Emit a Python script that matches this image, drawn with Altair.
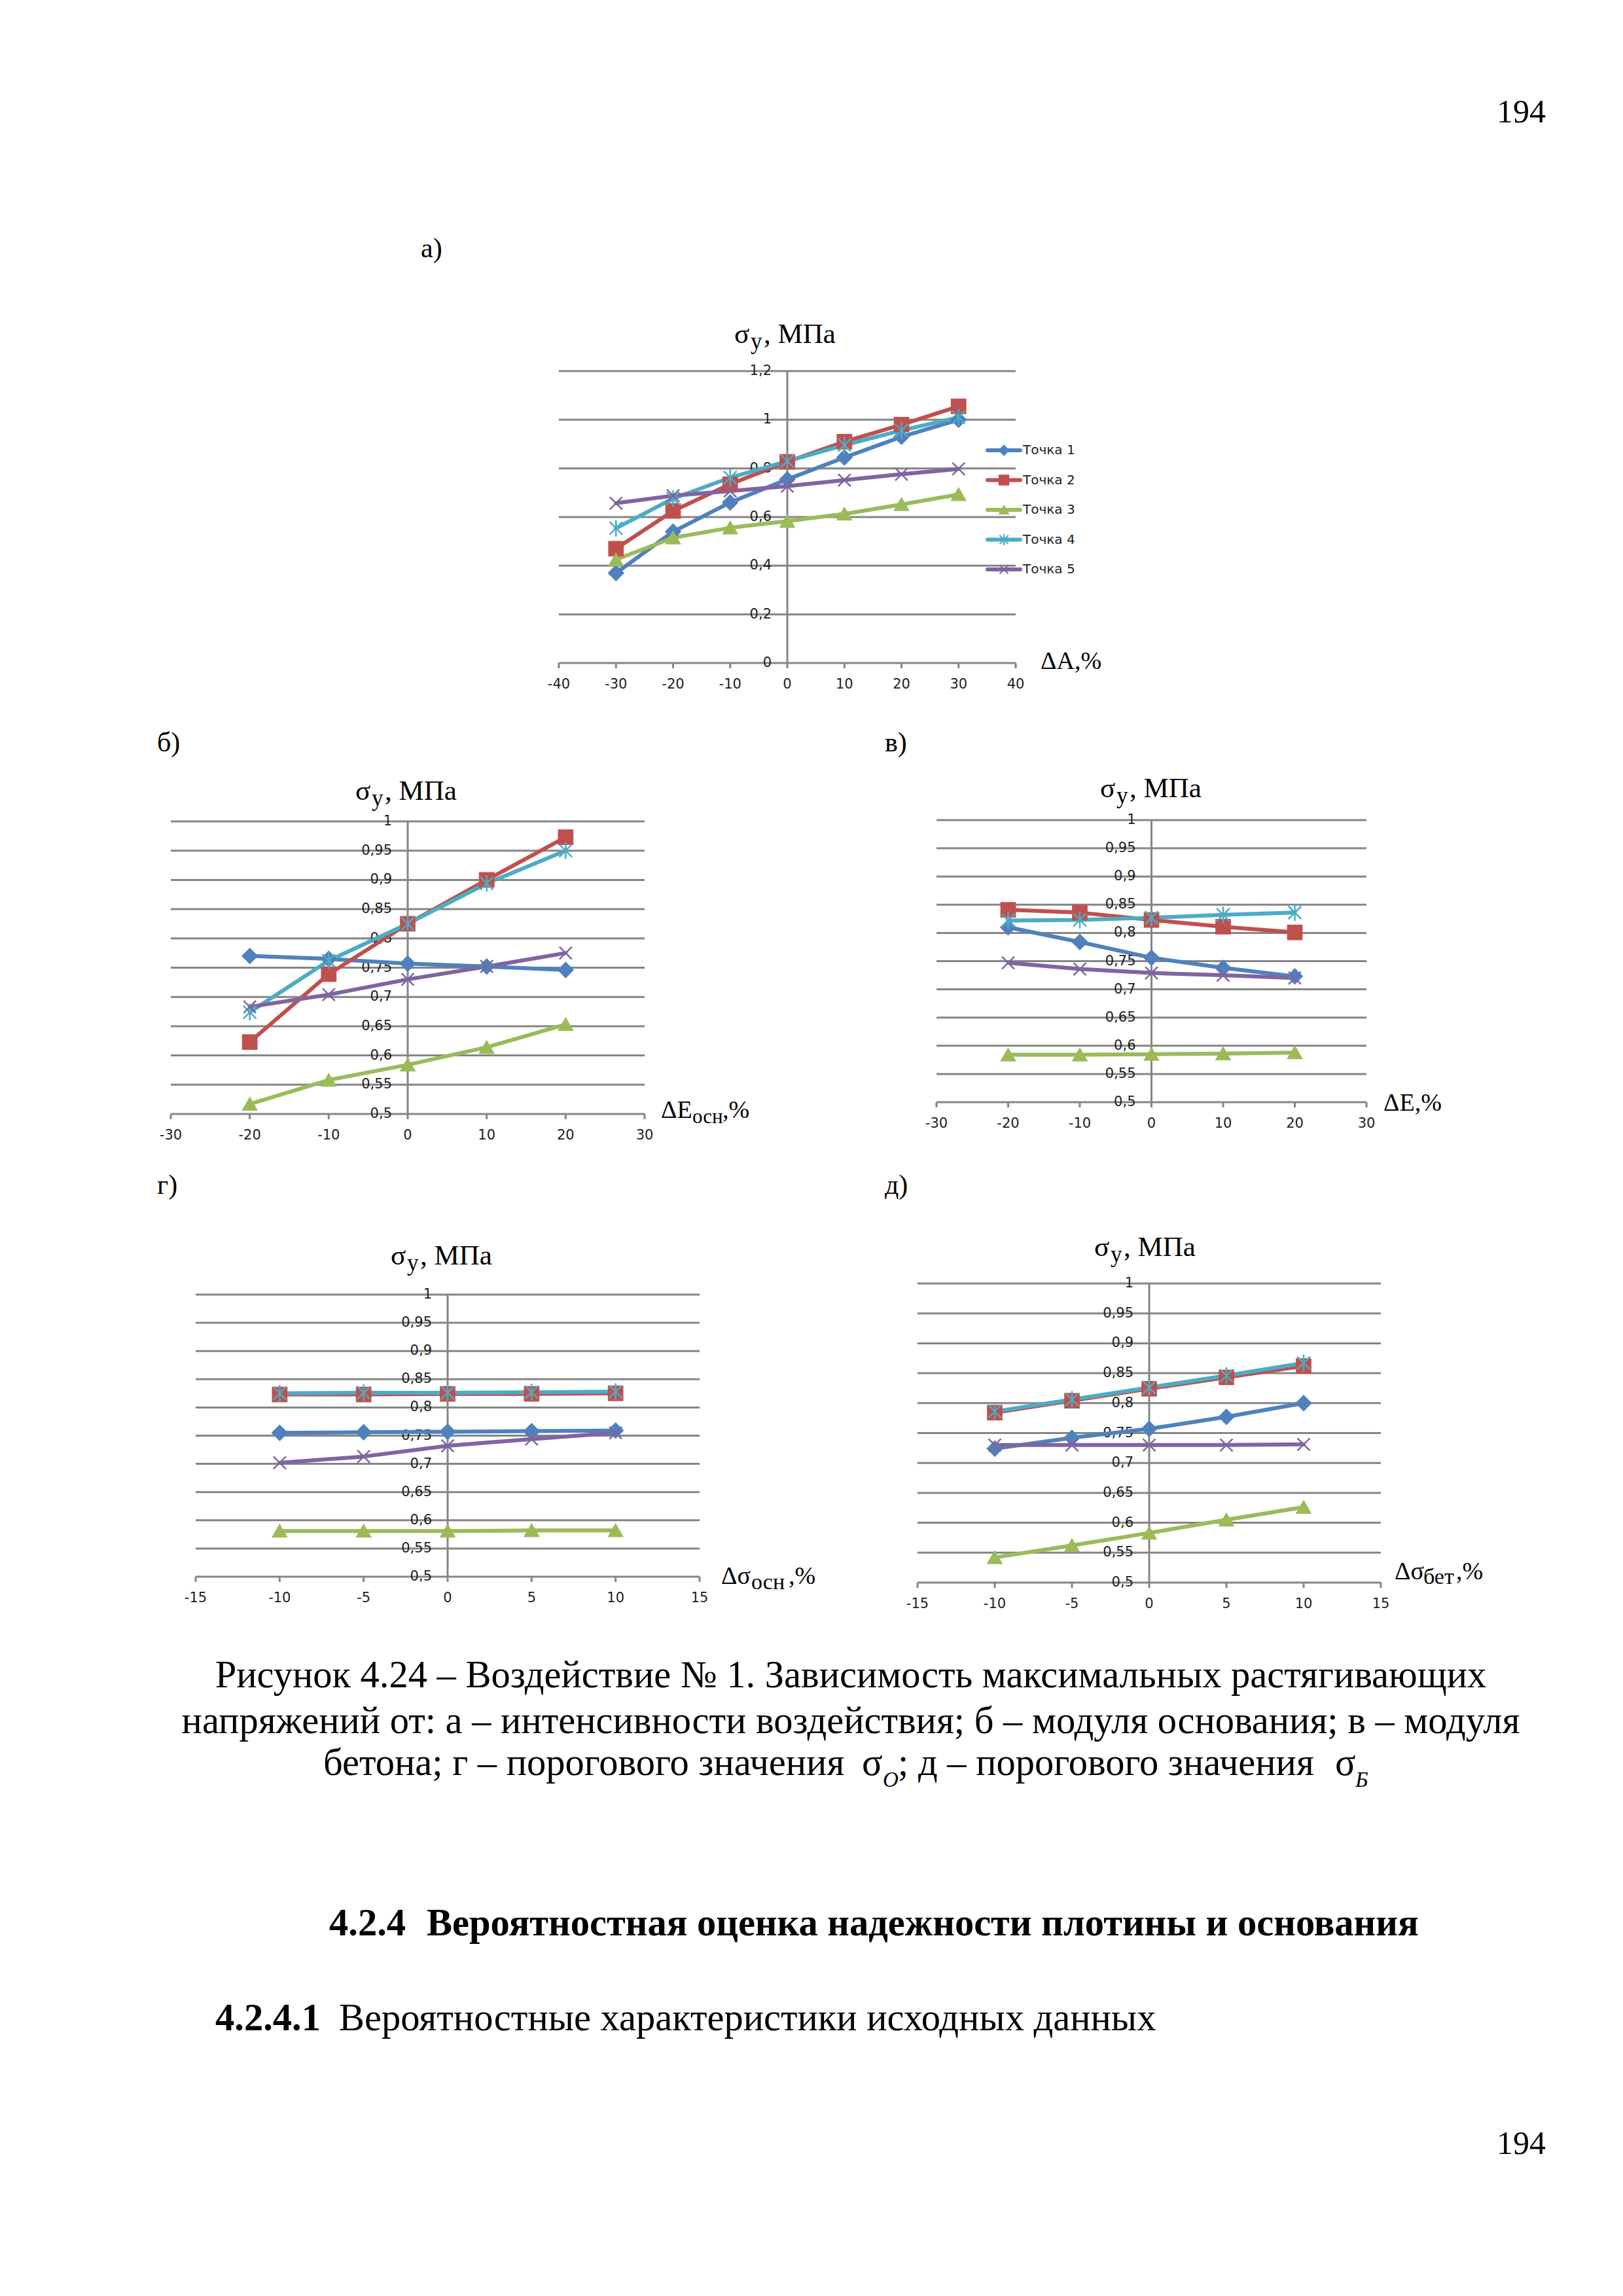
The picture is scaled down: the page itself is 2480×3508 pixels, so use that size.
import altair as alt
import pandas as pd

SERIES = ["Точка 1", "Точка 2", "Точка 3", "Точка 4", "Точка 5"]
COLORS = ["#4F81BD", "#C0504D", "#9BBB59", "#4BACC6", "#8064A2"]
ASTER = "M-1,-1L1,1M-1,1L1,-1M0,-1.3L0,1.3"
XMARK = "M-1,-1L1,1M-1,1L1,-1"
SHAPES = ["diamond", "square", "triangle-up", ASTER, XMARK]
SIZES = [480, 360, 430, 480, 480]
LEG_SIZES = [220, 170, 200, 220, 220]

# ---- panel а: intensity of impact ----
A_X = [-30, -20, -10, 0, 10, 20, 30]
A_T1 = [0.37, 0.54, 0.66, 0.755, 0.845, 0.93, 1.0]
A_T2 = [0.47, 0.625, 0.735, 0.827, 0.91, 0.98, 1.055]
A_T3 = [0.425, 0.515, 0.556, 0.583, 0.613, 0.652, 0.693]
A_T4 = [0.554, 0.676, 0.762, 0.83, 0.896, 0.956, 1.01]
A_T5 = [0.657, 0.688, 0.707, 0.727, 0.752, 0.776, 0.798]
A_XTICKS = [-40, -30, -20, -10, 0, 10, 20, 30, 40]
A_YTICKS = [0, 0.2, 0.4, 0.6, 0.8, 1, 1.2]

# ---- panel б: modulus of foundation ----
B_X = [-20, -10, 0, 10, 20]
B_T1 = [0.77, 0.765, 0.757, 0.752, 0.746]
B_T2 = [0.623, 0.739, 0.825, 0.9, 0.973]
B_T3 = [0.517, 0.558, 0.584, 0.614, 0.653]
B_T4 = [0.674, 0.762, 0.825, 0.894, 0.95]
B_T5 = [0.683, 0.704, 0.73, 0.752, 0.775]

# ---- panel в: modulus of concrete ----
C_X = [-20, -10, 0, 10, 20]
C_T1 = [0.81, 0.784, 0.756, 0.738, 0.723]
C_T2 = [0.841, 0.836, 0.823, 0.811, 0.801]
C_T3 = [0.584, 0.584, 0.585, 0.586, 0.588]
C_T4 = [0.822, 0.823, 0.827, 0.832, 0.836]
C_T5 = [0.747, 0.736, 0.729, 0.725, 0.72]
BC_XTICKS = [-30, -20, -10, 0, 10, 20, 30]

# ---- panel г: threshold sigma_O ----
D_X = [-10, -5, 0, 5, 10]
D_T1 = [0.755, 0.756, 0.757, 0.758, 0.759]
D_T2 = [0.823, 0.823, 0.824, 0.824, 0.825]
D_T3 = [0.581, 0.581, 0.581, 0.582, 0.582]
D_T4 = [0.825, 0.826, 0.826, 0.827, 0.828]
D_T5 = [0.702, 0.713, 0.732, 0.744, 0.755]

# ---- panel д: threshold sigma_B ----
E_X = [-10, -5, 0, 5, 10]
E_T1 = [0.724, 0.742, 0.757, 0.777, 0.8]
E_T2 = [0.784, 0.804, 0.824, 0.843, 0.862]
E_T3 = [0.542, 0.562, 0.583, 0.605, 0.626]
E_T4 = [0.786, 0.806, 0.826, 0.846, 0.867]
E_T5 = [0.73, 0.73, 0.73, 0.73, 0.731]
DE_XTICKS = [-15, -10, -5, 0, 5, 10, 15]

Y05_TICKS = [0.5, 0.55, 0.6, 0.65, 0.7, 0.75, 0.8, 0.85, 0.9, 0.95, 1]

GRID = "#858585"
LABEL_FONT = "DejaVu Sans"
SERIF = "Liberation Serif"
M = 8  # page margin
BODY = 58.5


def P(v):
    return v - M


def fmt(v):
    return f"{v:g}".replace(".", ",")


def panel(xvals, ys, xticks, yticks, xpix, ypix):
    xs = alt.Scale(domain=[xticks[0], xticks[-1]], range=[P(xpix[0]), P(xpix[1])], nice=False, zero=False)
    yscale = alt.Scale(domain=[yticks[0], yticks[-1]], range=[P(ypix[0]), P(ypix[1])], nice=False, zero=False)
    x0, x1 = xticks[0], xticks[-1]
    y0, y1 = yticks[0], yticks[-1]

    grid = alt.Chart(pd.DataFrame({"v": yticks})).transform_calculate(
        xa=str(x0), xb=str(x1)
    ).mark_rule(color=GRID, strokeWidth=3).encode(
        x=alt.X("xa:Q", scale=xs, axis=None), x2="xb:Q",
        y=alt.Y("v:Q", scale=yscale, axis=None))

    vaxis = alt.Chart(pd.DataFrame({"v": [0]})).transform_calculate(
        ya=str(y0), yb=str(y1)
    ).mark_rule(color=GRID, strokeWidth=3).encode(
        x=alt.X("v:Q", scale=xs, axis=None),
        y=alt.Y("ya:Q", scale=yscale, axis=None), y2="yb:Q")

    xt = pd.DataFrame({"v": xticks, "lab": [fmt(v) for v in xticks]})
    ticks = alt.Chart(xt).transform_calculate(ya=str(y0)).mark_rule(
        color=GRID, strokeWidth=3, y2Offset=8
    ).encode(x=alt.X("v:Q", scale=xs, axis=None),
             y=alt.Y("ya:Q", scale=yscale, axis=None), y2="ya:Q")
    xlab = alt.Chart(xt).transform_calculate(ya=str(y0)).mark_text(
        dy=33, fontSize=21, font=LABEL_FONT, color="#1e1e1e", baseline="middle"
    ).encode(x=alt.X("v:Q", scale=xs, axis=None),
             y=alt.Y("ya:Q", scale=yscale, axis=None), text="lab:N")

    yt = pd.DataFrame({"v": yticks, "lab": [fmt(v) for v in yticks]})
    ylab = alt.Chart(yt).transform_calculate(xz="0").mark_text(
        dx=-24, align="right", baseline="middle", fontSize=21, font=LABEL_FONT, color="#1e1e1e"
    ).encode(x=alt.X("xz:Q", scale=xs, axis=None),
             y=alt.Y("v:Q", scale=yscale, axis=None), text="lab:N")

    rows = []
    for s, vals in zip(SERIES, ys):
        for xv, yv in zip(xvals, vals):
            rows.append({"x": xv, "y": yv, "s": s})
    df = pd.DataFrame(rows)
    color = alt.Color("s:N", scale=alt.Scale(domain=SERIES, range=COLORS), legend=None)
    lines = alt.Chart(df).mark_line(strokeWidth=6, strokeCap="round", strokeJoin="round").encode(
        x=alt.X("x:Q", scale=xs, axis=None), y=alt.Y("y:Q", scale=yscale, axis=None),
        color=color, order="x:Q")
    pts = alt.Chart(df).mark_point(filled=True, opacity=1, strokeWidth=2.5).encode(
        x=alt.X("x:Q", scale=xs, axis=None), y=alt.Y("y:Q", scale=yscale, axis=None),
        color=color,
        stroke=alt.Stroke("s:N", scale=alt.Scale(domain=SERIES, range=COLORS), legend=None),
        shape=alt.Shape("s:N", scale=alt.Scale(domain=SERIES, range=SHAPES), legend=None),
        size=alt.Size("s:N", scale=alt.Scale(domain=SERIES, range=SIZES), legend=None))
    return alt.layer(grid, vaxis, ticks, xlab, ylab, lines, pts)


def txt(s, x, y, size, font=SERIF, align="left", weight="normal", style="normal", baseline="alphabetic"):
    return alt.Chart(pd.DataFrame({"t": [s]})).mark_text(
        align=align, baseline=baseline, fontSize=size, font=font,
        fontWeight=weight, fontStyle=style, color="black"
    ).encode(x=alt.value(P(x)), y=alt.value(P(y)), text="t:N")


def sigma_title(xl, base):
    return [txt("σ", xl, base, 43), txt("у", xl + 25, base + 9, 35), txt(", МПа", xl + 45, base, 43)]


layers = []
layers.append(panel(A_X, [A_T1, A_T2, A_T3, A_T4, A_T5], A_XTICKS, A_YTICKS, (854, 1552), (1013, 567)))
layers.append(panel(B_X, [B_T1, B_T2, B_T3, B_T4, B_T5], BC_XTICKS, Y05_TICKS, (261, 985), (1702, 1255)))
layers.append(panel(C_X, [C_T1, C_T2, C_T3, C_T4, C_T5], BC_XTICKS, Y05_TICKS, (1431, 2088), (1684, 1253)))
layers.append(panel(D_X, [D_T1, D_T2, D_T3, D_T4, D_T5], DE_XTICKS, Y05_TICKS, (299, 1069), (2409, 1978)))
layers.append(panel(E_X, [E_T1, E_T2, E_T3, E_T4, E_T5], DE_XTICKS, Y05_TICKS, (1402, 2110), (2418, 1961)))

# legend of panel а
leg = pd.DataFrame({"s": SERIES, "i": [1, 2, 3, 4, 5]})
ly = alt.Y("i:Q", scale=alt.Scale(domain=[1, 5], range=[P(688), P(870)]), axis=None)
lcol = alt.Color("s:N", scale=alt.Scale(domain=SERIES, range=COLORS), legend=None)
leg_line = alt.Chart(leg).mark_rule(strokeWidth=6, strokeCap="round").encode(
    x=alt.value(P(1509)), x2=alt.value(P(1559)), y=ly, color=lcol)
leg_pt = alt.Chart(leg).mark_point(filled=True, opacity=1, strokeWidth=2).encode(
    x=alt.value(P(1534)), y=ly, color=lcol,
    stroke=alt.Stroke("s:N", scale=alt.Scale(domain=SERIES, range=COLORS), legend=None),
    shape=alt.Shape("s:N", scale=alt.Scale(domain=SERIES, range=SHAPES), legend=None),
    size=alt.Size("s:N", scale=alt.Scale(domain=SERIES, range=LEG_SIZES), legend=None))
leg_txt = alt.Chart(leg).mark_text(align="left", baseline="middle", fontSize=20, font=LABEL_FONT,
                                   color="#1e1e1e").encode(x=alt.value(P(1563)), y=ly, text="s:N")
layers.append(alt.layer(leg_line, leg_pt, leg_txt))

# page text
texts = []
texts.append(txt("194", 2362, 187, 50, align="right"))
texts.append(txt("а)", 643, 393, 42))
texts.append(txt("б)", 240, 1148, 42))
texts.append(txt("в)", 1352, 1148, 42))
texts.append(txt("г)", 240, 1824, 42))
texts.append(txt("д)", 1352, 1824, 42))

texts += sigma_title(1122, 524)
texts += sigma_title(543, 1222)
texts += sigma_title(1681, 1218)
texts += sigma_title(597, 1932)
texts += sigma_title(1672, 1919)

# axis titles
texts.append(txt("ΔA,%", 1590, 1022, 38))
texts += [txt("ΔE", 1010, 1708, 38), txt("осн", 1058, 1716, 31), txt(",%", 1104, 1708, 38)]
texts.append(txt("ΔE,%", 2114, 1697, 38))
texts += [txt("Δσ", 1102, 2420, 38), txt("осн", 1148, 2428, 34), txt(",%", 1205, 2420, 38)]
texts += [txt("Δσ", 2131, 2413, 38), txt("бет", 2175, 2420, 34), txt(",%", 2225, 2413, 38)]

# caption
CAP1 = "Рисунок 4.24 – Воздействие № 1. Зависимость максимальных растягивающих"
CAP2 = "напряжений от: а – интенсивности воздействия; б – модуля основания; в – модуля"
texts.append(txt(CAP1, 1300, 2578, BODY, align="center"))
texts.append(txt(CAP2, 1300, 2648, BODY, align="center"))
texts += [txt("бетона; г – порогового значения", 494, 2712, BODY),
          txt("σ", 1317, 2712, BODY),
          txt("O", 1349, 2730, 33, style="italic"),
          txt("; д – порогового значения", 1372, 2712, BODY),
          txt("σ", 2040, 2712, BODY),
          txt("Б", 2071, 2730, 33, style="italic")]

texts.append(txt("4.2.4", 503, 2957, BODY, weight="bold"))
texts.append(txt("Вероятностная оценка надежности плотины и основания", 652, 2957, BODY, weight="bold"))
texts.append(txt("4.2.4.1", 329, 3102, BODY, weight="bold"))
texts.append(txt("Вероятностные характеристики исходных данных", 518, 3102, BODY))
texts.append(txt("194", 2362, 3291, 50, align="right"))

layers.append(alt.layer(*texts))

chart = alt.layer(*layers).resolve_scale(
    x="independent", y="independent", color="independent",
    shape="independent", stroke="independent", size="independent"
).properties(width=2464, height=3492, padding=0, background="white").configure_view(stroke=None)

chart.save("out.html", embed_options={"renderer": "svg", "actions": False})
